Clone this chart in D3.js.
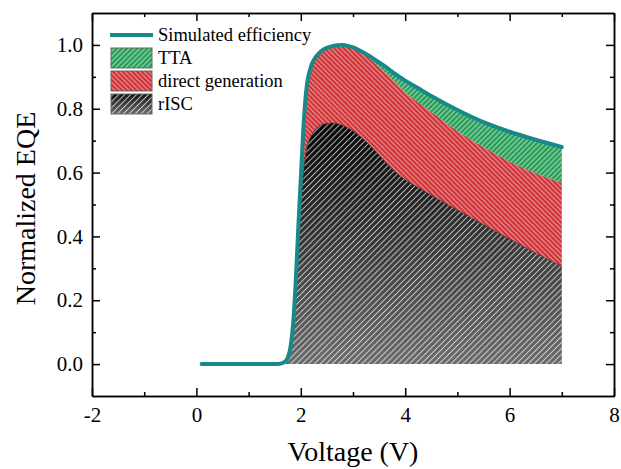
<!DOCTYPE html>
<html>
<head>
<meta charset="utf-8">
<script src="https://cdn.jsdelivr.net/npm/d3@7"></script>
<style>
	body { margin: 0; background: #fff; }
	svg { display: block; font-family: "Liberation Serif", "Times New Roman", serif; }
	.axis path, .axis line { stroke: #000; stroke-width: 1.5; }
	.axis text { font-size: 21px; fill: #000; font-family: "Liberation Serif", "Times New Roman", serif; }
	.legtext { font-size: 18.5px; fill: #000; }
	.axistitle { font-size: 28px; fill: #000; }
</style>
</head>
<body>
<svg class="chart"></svg>
<script>
// values
var voltage = [0.1, 0.5, 1.0, 1.5, 1.6, 1.7, 1.75, 1.8, 1.85, 1.9, 1.95, 2.0, 2.05, 2.1, 2.2, 2.3, 2.4, 2.6, 2.8, 3.0, 3.2, 3.4, 3.6, 3.8, 4.0, 4.25, 4.5, 5.0, 5.5, 6.0, 6.5, 7.0];
var rISC   = [0, 0, 0, 0, 0.001, 0.007, 0.018, 0.045, 0.11, 0.22, 0.37, 0.5, 0.6, 0.665, 0.715, 0.738, 0.75, 0.755, 0.748, 0.73, 0.705, 0.673, 0.637, 0.604, 0.578, 0.553, 0.529, 0.483, 0.437, 0.392, 0.348, 0.306];
var direct = [0, 0, 0, 0, 0, 0.001, 0.002, 0.005, 0.01, 0.03, 0.05, 0.08, 0.14, 0.185, 0.22, 0.227, 0.232, 0.241, 0.252, 0.262, 0.267, 0.273, 0.279, 0.28, 0.274, 0.267, 0.261, 0.247, 0.243, 0.243, 0.25, 0.262];
var tta    = [0, 0, 0, 0, 0, 0, 0, 0, 0, 0, 0, 0, 0, 0, 0, 0, 0, 0, 0, 0, 0.004, 0.01, 0.018, 0.026, 0.036, 0.044, 0.05, 0.066, 0.078, 0.093, 0.105, 0.112];

var xTicks = [-2, 0, 2, 4, 6, 8];
var yTicks = [0.0, 0.2, 0.4, 0.6, 0.8, 1.0];
var seriesNames = ["Simulated efficiency", "TTA", "direct generation", "rISC"];

var totalWidth = 621, totalHeight = 469;
var margin = {top: 13, right: 7, bottom: 73, left: 92},
	width = totalWidth - margin.left - margin.right,
	height = totalHeight - margin.top - margin.bottom;

var data = voltage.map(function(v, i) {
	return {v: v, rISC: rISC[i], direct: direct[i], tta: tta[i]};
});

var x = d3.scaleLinear().domain([-2, 8]).range([0, width]);
var y = d3.scaleLinear().domain([-0.1, 1.1]).range([height, 0]);

var svg = d3.select(".chart")
	.attr("width", totalWidth)
	.attr("height", totalHeight);

var defs = svg.append("defs");

// gradient for the rISC area
var grad = defs.append("linearGradient")
	.attr("id", "blackGrad")
	.attr("gradientUnits", "userSpaceOnUse")
	.attr("x1", 0).attr("x2", 0)
	.attr("y1", margin.top + y(0.76)).attr("y2", margin.top + y(0));
grad.append("stop").attr("offset", "0%").attr("stop-color", "#070707");
grad.append("stop").attr("offset", "100%").attr("stop-color", "#707070");

var gradLeg = defs.append("linearGradient")
	.attr("id", "blackGradLeg")
	.attr("x1", 0).attr("x2", 0).attr("y1", 0).attr("y2", 1);
gradLeg.append("stop").attr("offset", "0%").attr("stop-color", "#111");
gradLeg.append("stop").attr("offset", "100%").attr("stop-color", "#6a6a6a");

// hatch patterns (white lines only)
function hatch(id, angle, size, op) {
	var p = defs.append("pattern")
		.attr("id", id)
		.attr("patternUnits", "userSpaceOnUse")
		.attr("width", size).attr("height", size)
		.attr("patternTransform", "rotate(" + angle + ")");
	p.append("line")
		.attr("x1", size / 2).attr("x2", size / 2)
		.attr("y1", 0).attr("y2", size)
		.attr("stroke", "#fff")
		.attr("stroke-opacity", op)
		.attr("stroke-width", 1);
}
hatch("hatchSlash", 45, 4.2, 0.7);
hatch("hatchBack", -45, 3.4, 0.6);
hatch("hatchGreen", 45, 3.6, 0.7);

var fills = {rISC: "url(#blackGrad)", direct: "#cf2e33", tta: "#1f9c52"};
var hatches = {rISC: "url(#hatchSlash)", direct: "url(#hatchBack)", tta: "url(#hatchGreen)"};

var chart = svg.append("g")
	.attr("transform", "translate(" + margin.left + "," + margin.top + ")");

var stack = d3.stack().keys(["rISC", "direct", "tta"]);
var layers = stack(data);

var area = d3.area()
	.curve(d3.curveMonotoneX)
	.x(function(d) { return x(d.data.v); })
	.y0(function(d) { return y(d[0]); })
	.y1(function(d) { return y(d[1]); });

// Draw stacked areas
layers.forEach(function(layer) {
	chart.append("path")
		.datum(layer)
		.attr("fill", fills[layer.key])
		.attr("d", area);
	chart.append("path")
		.datum(layer)
		.attr("fill", hatches[layer.key])
		.attr("d", area);
});

// thin edge on top of rISC
chart.append("path")
	.datum(layers[0].filter(function(d) { return d.data.v >= 2.0; }))
	.attr("fill", "none")
	.attr("stroke", "#222")
	.attr("stroke-width", 0.6)
	.attr("d", d3.line().curve(d3.curveMonotoneX)
		.x(function(d) { return x(d.data.v); })
		.y(function(d) { return y(d[1]); }));

// Simulated efficiency = top of stack
var valueline = d3.line()
	.curve(d3.curveMonotoneX)
	.x(function(d) { return x(d.v); })
	.y(function(d) { return y(d.rISC + d.direct + d.tta); });

chart.append("path")
	.datum(data)
	.attr("fill", "none")
	.attr("stroke", "#17898b")
	.attr("stroke-width", 4)
	.attr("stroke-linecap", "round")
	.attr("stroke-linejoin", "round")
	.attr("d", valueline);

// Axes (inward ticks, mirrored)
var xMinor = d3.range(-1, 8, 2);
var yMinor = [0.1, 0.3, 0.5, 0.7, 0.9];
var serif = "Liberation Serif, Times New Roman, serif";

function styleAxis(g) {
	g.attr("font-family", serif).attr("font-size", 21);
}

chart.append("g").attr("class", "x axis")
	.attr("transform", "translate(0," + height + ")")
	.call(d3.axisBottom(x).tickValues(xTicks).tickSizeInner(-8).tickSizeOuter(0).tickPadding(11)
		.tickFormat(function(d) { return String(d); }))
	.call(styleAxis);
chart.append("g").attr("class", "x axis minor")
	.attr("transform", "translate(0," + height + ")")
	.call(d3.axisBottom(x).tickValues(xMinor).tickSizeInner(-4).tickSizeOuter(0).tickFormat(""));
chart.append("g").attr("class", "x axis")
	.call(d3.axisTop(x).tickValues(xTicks).tickSizeInner(-8).tickSizeOuter(0).tickFormat(""));
chart.append("g").attr("class", "x axis minor")
	.call(d3.axisTop(x).tickValues(xMinor).tickSizeInner(-4).tickSizeOuter(0).tickFormat(""));

chart.append("g").attr("class", "y axis")
	.call(d3.axisLeft(y).tickValues(yTicks).tickSizeInner(-8).tickSizeOuter(0).tickPadding(9).tickFormat(d3.format(".1f")))
	.call(styleAxis);
chart.append("g").attr("class", "y axis minor")
	.call(d3.axisLeft(y).tickValues(yMinor).tickSizeInner(-4).tickSizeOuter(0).tickFormat(""));
chart.append("g").attr("class", "y axis")
	.attr("transform", "translate(" + width + ",0)")
	.call(d3.axisRight(y).tickValues(yTicks).tickSizeInner(-8).tickSizeOuter(0).tickFormat(""));
chart.append("g").attr("class", "y axis minor")
	.attr("transform", "translate(" + width + ",0)")
	.call(d3.axisRight(y).tickValues(yMinor).tickSizeInner(-4).tickSizeOuter(0).tickFormat(""));

// Axis titles
chart.append("text")
	.attr("class", "axistitle")
	.attr("x", width / 2)
	.attr("y", height + 65)
	.attr("text-anchor", "middle")
	.text("Voltage (V)");

chart.append("text")
	.attr("class", "axistitle")
	.attr("transform", "rotate(-90)")
	.attr("x", 0 - (height / 2) - 4)
	.attr("y", 35 - margin.left)
	.attr("text-anchor", "middle")
	.text("Normalized EQE");

// Legend
var leg = chart.append("g").attr("transform", "translate(" + (110 - margin.left) + "," + (35 - margin.top) + ")");
leg.append("line")
	.attr("x1", 0).attr("x2", 43).attr("y1", 0).attr("y2", 0)
	.attr("stroke", "#17898b").attr("stroke-width", 4);
leg.append("text").attr("class", "legtext").attr("x", 48).attr("y", 6).text(seriesNames[0]);

var legKeys = ["tta", "direct", "rISC"];
var legFill = {tta: fills.tta, direct: fills.direct, rISC: "url(#blackGradLeg)"};
legKeys.forEach(function(k, i) {
	var yy = 13 + i * 23;
	leg.append("rect").attr("x", 1).attr("y", yy).attr("width", 41).attr("height", 20)
		.attr("fill", legFill[k]);
	leg.append("rect").attr("x", 1).attr("y", yy).attr("width", 41).attr("height", 20)
		.attr("fill", hatches[k]).attr("stroke", "#666").attr("stroke-width", 1);
	leg.append("text").attr("class", "legtext").attr("x", 48).attr("y", yy + 16).text(seriesNames[i + 1]);
});
</script>
</body>
</html>
